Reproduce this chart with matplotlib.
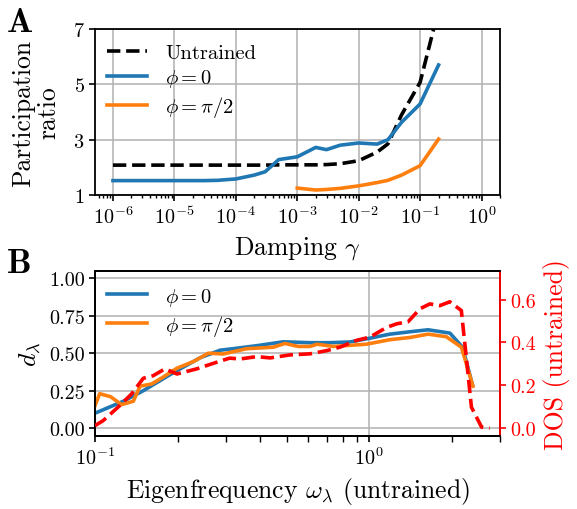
import numpy as np
import matplotlib
matplotlib.use("Agg")
import matplotlib.pyplot as plt
from matplotlib.ticker import LogLocator, NullFormatter

plt.rcParams['font.family'] = 'serif'
plt.rcParams['font.serif'] = ['cmr10']
plt.rcParams['mathtext.fontset'] = 'cm'
plt.rcParams['axes.formatter.use_mathtext'] = True
plt.rcParams['axes.unicode_minus'] = False

# ---------------- Panel A data ----------------
gamma = [1e-6, 2e-6, 3e-6, 5e-6, 1e-5, 2e-5, 3e-5, 5e-5, 1e-4, 2e-4, 3e-4, 5e-4,
         1e-3, 2e-3, 3e-3, 5e-3, 1e-2, 2e-2, 3e-2, 5e-2, 1e-1, 2e-1]
pr_untrained = [2.08, 2.08, 2.08, 2.08, 2.08, 2.08, 2.08, 2.08, 2.08, 2.08, 2.08, 2.09,
                2.09, 2.09, 2.10, 2.13, 2.24, 2.55, 2.85, 3.9, 5.07, 7.7]
pr_phi0 = [1.52, 1.52, 1.52, 1.52, 1.52, 1.52, 1.52, 1.53, 1.58, 1.72, 1.84, 2.28,
           2.38, 2.72, 2.64, 2.80, 2.88, 2.84, 3.0, 3.63, 4.29, 5.70]
gamma_orange = [1e-3, 2e-3, 3e-3, 5e-3, 1e-2, 2e-2, 3e-2, 5e-2, 1e-1, 2e-1]
pr_phipi2 = [1.25, 1.18, 1.20, 1.24, 1.33, 1.45, 1.53, 1.72, 2.06, 3.02]

# ---------------- Panel B data ----------------
omega_b = [0.1, 0.127, 0.150, 0.193, 0.242, 0.286, 0.319, 0.389, 0.486, 0.608,
           0.719, 0.851, 1.006, 1.19, 1.41, 1.64, 1.97, 2.19, 2.38]
d_phi0 = [0.10, 0.18, 0.25, 0.37, 0.47, 0.52, 0.53, 0.55, 0.576, 0.57,
          0.57, 0.575, 0.60, 0.627, 0.643, 0.656, 0.634, 0.54, 0.29]
omega_o = [0.1, 0.104, 0.114, 0.125, 0.138, 0.146, 0.161, 0.177, 0.199, 0.229,
           0.259, 0.294, 0.357, 0.447, 0.493, 0.551, 0.608, 0.646, 0.741, 0.977,
           1.19, 1.41, 1.64, 1.91, 2.17, 2.39]
d_phipi2 = [0.15, 0.23, 0.21, 0.157, 0.18, 0.28, 0.295, 0.34, 0.40, 0.445,
            0.50, 0.495, 0.53, 0.54, 0.565, 0.545, 0.545, 0.56, 0.545, 0.56,
            0.59, 0.605, 0.627, 0.61, 0.54, 0.28]
omega_r = [0.1, 0.107, 0.123, 0.136, 0.150, 0.163, 0.180, 0.199, 0.235, 0.278,
           0.310, 0.338, 0.389, 0.435, 0.514, 0.608, 0.700, 0.782, 0.900, 1.006,
           1.156, 1.259, 1.387, 1.531, 1.663, 1.811, 1.968, 2.168, 2.265, 2.36,
           2.57, 2.75]
dos = [0.012, 0.035, 0.105, 0.16, 0.233, 0.245, 0.277, 0.253, 0.277, 0.308,
       0.327, 0.323, 0.334, 0.328, 0.342, 0.347, 0.362, 0.378, 0.41, 0.425,
       0.47, 0.487, 0.497, 0.557, 0.58, 0.572, 0.59, 0.549, 0.32, 0.098,
       0.005, 0.0]

blue = '#1f77b4'
orange = '#ff7f0e'
gridc = '#b0b0b0'
LBL = 18.5
TCK = 14.5
LEG = 14.8

fig = plt.figure(figsize=(5.77, 5.10), dpi=100)
W, H = 577, 510

axA = fig.add_axes([95 / W, 1 - 196 / H, 405 / W, 166 / H])
axA.plot(gamma, pr_untrained, color='black', ls='--', lw=2.6, label='Untrained', zorder=3)
axA.plot(gamma, pr_phi0, color=blue, lw=2.6, label=r'$\phi = 0$', zorder=3)
axA.plot(gamma_orange, pr_phipi2, color=orange, lw=2.6, label=r'$\phi = \pi/2$', zorder=3)
axA.set_xscale('log')
axA.set_xlim(5.1e-7, 2.0)
axA.set_ylim(1, 7)
axA.set_yticks([1, 3, 5, 7])
axA.set_xticks([1e-6, 1e-5, 1e-4, 1e-3, 1e-2, 1e-1, 1e0])
axA.xaxis.set_minor_locator(LogLocator(base=10, subs=np.arange(2, 10), numticks=20))
axA.xaxis.set_minor_formatter(NullFormatter())
axA.grid(True, which='major', color=gridc, lw=1.1)
axA.set_axisbelow(True)
axA.set_xlabel(r'Damping $\gamma$', fontsize=LBL, labelpad=5)
axA.set_ylabel('Participation\nratio', fontsize=LBL, linespacing=1.05, labelpad=9)
axA.tick_params(labelsize=TCK, width=1.2, length=4)
axA.tick_params(axis='x', which='minor', width=1.0, length=2.5)
for s in axA.spines.values():
    s.set_linewidth(1.3)
axA.legend(loc='upper left', frameon=False, fontsize=LEG, handlelength=1.95,
           handletextpad=0.85, borderaxespad=0.2, labelspacing=0.25,
           bbox_to_anchor=(0.0, 0.985))

axB = fig.add_axes([95 / W, 1 - 436.7 / H, 405 / W, 165 / H])
axB.plot(omega_b, d_phi0, color=blue, lw=2.6, label=r'$\phi = 0$', zorder=3)
axB.plot(omega_o, d_phipi2, color=orange, lw=2.6, label=r'$\phi = \pi/2$', zorder=3)
axB.set_xscale('log')
axB.set_xlim(0.1, 3.0)
axB.set_ylim(-0.05, 1.05)
axB.set_yticks([0.0, 0.25, 0.5, 0.75, 1.0])
axB.set_yticklabels(['0.00', '0.25', '0.50', '0.75', '1.00'])
axB.set_xticks([0.1, 1.0])
axB.xaxis.set_minor_locator(LogLocator(base=10, subs=np.arange(2, 10), numticks=20))
axB.xaxis.set_minor_formatter(NullFormatter())
axB.grid(True, which='major', color=gridc, lw=1.1)
axB.set_axisbelow(True)
axB.set_xlabel(r'Eigenfrequency $\omega_\lambda$ (untrained)', fontsize=LBL, labelpad=5)
axB.set_ylabel(r'$d_\lambda$', fontsize=LBL, labelpad=4)
axB.tick_params(labelsize=TCK, width=1.2, length=4)
axB.tick_params(axis='x', which='minor', width=1.0, length=4)
for s in axB.spines.values():
    s.set_linewidth(1.3)
axB.legend(loc='upper left', frameon=False, fontsize=LEG, handlelength=1.95,
           handletextpad=0.85, borderaxespad=0.2, labelspacing=0.25,
           bbox_to_anchor=(0.0, 0.985))

axR = axB.twinx()
axR.plot(omega_r, dos, color='red', ls='--', lw=2.6, zorder=4)
axR.set_ylim(-0.035, 0.735)
axR.set_yticks([0.0, 0.2, 0.4, 0.6])
axR.set_yticklabels(['0.0', '0.2', '0.4', '0.6'])
axR.set_ylabel('DOS (untrained)', color='red', fontsize=LBL, labelpad=5)
axR.tick_params(axis='y', colors='red', labelsize=TCK, width=1.2, length=4)
for s in axR.spines.values():
    s.set_linewidth(1.3)
axR.spines['right'].set_color('red')

fig.text(7 / W, 1 - 32 / H, 'A', fontsize=25, family='cmb10', va='baseline')
fig.text(7 / W, 1 - 273 / H, 'B', fontsize=25, family='cmb10', va='baseline')

fig.savefig('out.png', dpi=100)
